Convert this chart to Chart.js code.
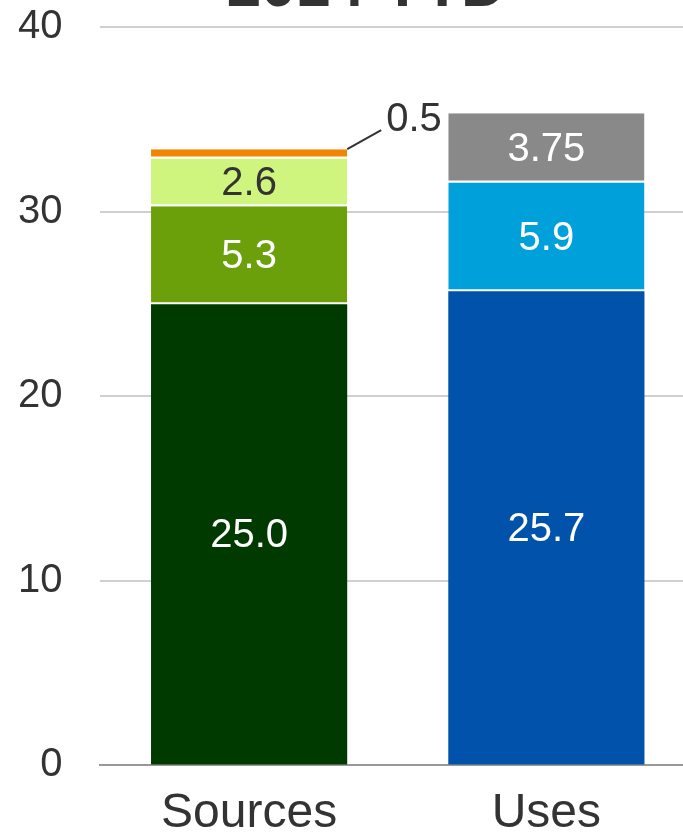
<!DOCTYPE html>
<html>
<head>
<meta charset="utf-8">
<script src="https://cdn.jsdelivr.net/npm/chart.js@4"></script>
<style>
  html, body { margin: 0; padding: 0; background: #fff; overflow: hidden; width: 683px; height: 832px; }
  #wrap { position: absolute; left: -37px; top: -56px; width: 770px; height: 911px; }
</style>
</head>
<body>
<div id="wrap"><canvas id="chart1"></canvas></div>
<script>
const title = "2014 YTD";
const categories = ["Sources", "Uses"];
// one array per stacked layer: [Sources, Uses]
const layer_1 = [25.0, 25.7];
const layer_2 = [5.3, 5.9];
const layer_3 = [2.6, 3.75];
const layer_4 = [0.5, null];
const labels_1 = ["25.0", "25.7"];
const labels_2 = ["5.3", "5.9"];
const labels_3 = ["2.6", "3.75"];
const labels_4 = ["0.5", ""];
const y_ticks = [0, 10, 20, 30, 40];

const FONT = "'Liberation Sans', Arial, sans-serif";

// value labels on the segments, 0.5 sits outside with a leader line
const segmentLabels = {
  id: "segmentLabels",
  afterDatasetsDraw(chart) {
    const ctx = chart.ctx;
    ctx.save();
    ctx.font = "40px " + FONT;
    ctx.textBaseline = "middle";
    chart.data.datasets.forEach(function (ds, i) {
      const meta = chart.getDatasetMeta(i);
      meta.data.forEach(function (bar, j) {
        const text = ds.valueLabels[j];
        if (!text) return;
        if (ds.outside) {
          const right = bar.x + bar.width / 2;
          ctx.strokeStyle = "#333";
          ctx.lineWidth = 2;
          ctx.beginPath();
          ctx.moveTo(right, bar.y);
          ctx.lineTo(right + 34, bar.y - 19);
          ctx.stroke();
          ctx.fillStyle = "#333";
          ctx.textAlign = "left";
          ctx.fillText(text, right + 39, bar.y - 29);
        } else {
          ctx.fillStyle = ds.labelColors[j];
          ctx.textAlign = "center";
          ctx.fillText(text, bar.x, (bar.y + bar.base) / 2 + 2);
        }
      });
    });
    ctx.restore();
  }
};

// title sits a bit left of the plot centre, over the tick labels too
const chartTitle = {
  id: "chartTitle",
  afterDraw(chart) {
    const ctx = chart.ctx;
    const area = chart.chartArea;
    ctx.save();
    ctx.font = "bold 62px " + FONT;
    ctx.fillStyle = "#333";
    ctx.textAlign = "center";
    ctx.textBaseline = "middle";
    ctx.fillText(title, (area.left - 63 + area.right) / 2, area.top - 38);
    ctx.restore();
  }
};

const gap = { top: 0, right: 0, bottom: 2, left: 0 };

const chart1 = new Chart("chart1", {
  type: "bar",
  data: {
    labels: categories,
    datasets: [
      {
        data: layer_1,
        valueLabels: labels_1,
        labelColors: ["#fff", "#fff"],
        backgroundColor: ["#003a00", "#0052aa"],
        borderWidth: 0,
      },
      {
        data: layer_2,
        valueLabels: labels_2,
        labelColors: ["#fff", "#fff"],
        backgroundColor: ["#6ba00a", "#00a0da"],
        borderColor: "#fff",
        borderWidth: gap,
        borderSkipped: false,
      },
      {
        data: layer_3,
        valueLabels: labels_3,
        labelColors: ["#333", "#fff"],
        backgroundColor: ["#cff57f", "#898989"],
        borderColor: "#fff",
        borderWidth: gap,
        borderSkipped: false,
      },
      {
        data: layer_4,
        valueLabels: labels_4,
        outside: true,
        backgroundColor: ["#f28500", "#f28500"],
        borderColor: "#fff",
        borderWidth: gap,
        borderSkipped: false,
      },
    ],
  },
  options: {
    responsive: true,
    maintainAspectRatio: false,
    animation: false,
    categoryPercentage: 1,
    barPercentage: 0.66,
    layout: { padding: { left: 17, right: 38, top: 83.4, bottom: 0 } },
    plugins: {
      legend: { display: false },
      tooltip: { enabled: false },
      title: { display: false },
    },
    scales: {
      x: {
        stacked: true,
        grid: { display: false },
        border: { display: true, color: "#999", width: 2 },
        ticks: { color: "#333", padding: 12, font: { family: FONT, size: 48 } },
      },
      y: {
        stacked: true,
        min: y_ticks[0],
        max: y_ticks[y_ticks.length - 1],
        afterBuildTicks(scale) {
          scale.ticks = y_ticks.map(function (v) { return { value: v }; });
        },
        grid: { color: "#d0d0d0", lineWidth: 2, drawTicks: false },
        border: { display: false },
        ticks: { color: "#333", padding: 38, font: { family: FONT, size: 40 } },
      },
    },
  },
  plugins: [segmentLabels, chartTitle],
});
</script>
</body>
</html>
